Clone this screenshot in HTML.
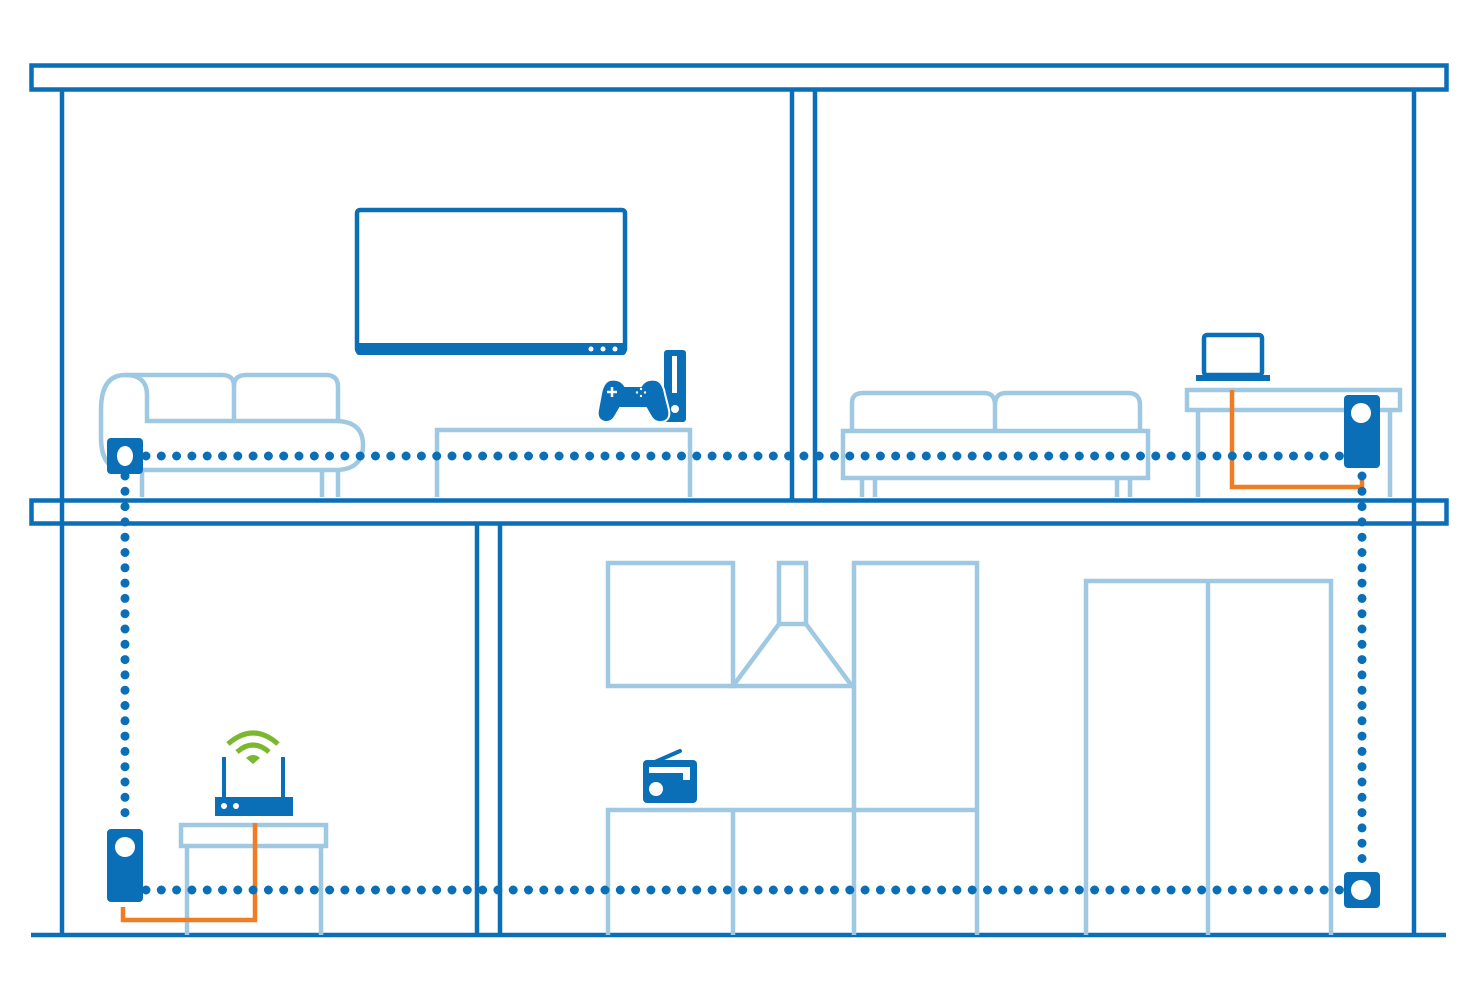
<!DOCTYPE html>
<html><head><meta charset="utf-8"><style>html,body{margin:0;padding:0;background:#fff}svg{display:block}</style></head>
<body>
<svg width="1478" height="1000" viewBox="0 0 1478 1000" xmlns="http://www.w3.org/2000/svg">
<g fill="none" stroke="#0a6fb7" stroke-width="4.5">
  <rect x="31.5" y="65.5" width="1415" height="24"/>
  <rect x="31.5" y="500.5" width="1415" height="23"/>
  <line x1="62" y1="90" x2="62" y2="935"/>
  <line x1="1414" y1="90" x2="1414" y2="935"/>
  <line x1="31" y1="935" x2="1446" y2="935"/>
  <line x1="792" y1="90" x2="792" y2="500"/>
  <line x1="815" y1="90" x2="815" y2="500"/>
  <line x1="477" y1="524" x2="477" y2="935"/>
  <line x1="500" y1="524" x2="500" y2="935"/>
  <rect x="357" y="210" width="268" height="142" rx="3"/>
</g>
<rect x="356" y="343" width="270" height="12" rx="3" fill="#0a6fb7"/>
<circle cx="591" cy="349" r="2.5" fill="#fff"/><circle cx="603" cy="349" r="2.5" fill="#fff"/><circle cx="615" cy="349" r="2.5" fill="#fff"/>

<g fill="none" stroke="#9fc8e3" stroke-width="4.5">
  <path d="M125 375 H222 Q234 375 234 386 Q234 375 246 375 H326 Q338 375 338 387 V421"/>
  <path d="M234 386 V421"/>
  <path d="M125 375 Q101 375 101 410 V437 Q101 470 125 470 H335 Q363 470 363 445 Q363 421 335 421 H147 V395 Q147 375 125 375"/>
  <path d="M142 470 V497 M322 470 V497 M338 470 V497"/>
  <path d="M437 497 V430 H690 V497"/>
  <path d="M852 430 V403 Q852 393 863 393 H984 Q995 393 995 405 Q995 393 1006 393 H1128 Q1140 393 1140 405 V430"/>
  <path d="M995 405 V430"/>
  <rect x="843" y="431" width="305" height="47"/>
  <path d="M862 478 V497 M875 478 V497 M1117 478 V497 M1130 478 V497"/>
  <rect x="1187" y="390" width="213" height="20"/>
  <path d="M1198 410 V497 M1390 410 V497"/>
  <rect x="608" y="563" width="125" height="123"/>
  <rect x="779" y="563" width="27" height="61"/>
  <path d="M779 624 L733 686 H852 L806 624"/>
  <path d="M854 935 V563 H977 V935 M854 810 H977"/>
  <path d="M608 935 V810 H854 M733 810 V935"/>
  <path d="M1086 935 V581 H1331 V935 M1208 581 V935"/>
  <rect x="181" y="825" width="145" height="21"/>
  <path d="M187 846 V935 M321 846 V935"/>
</g>

<g fill="none" stroke="#f07d23" stroke-width="4.5">
  <path d="M1232 390 V487 H1362 V476"/>
  <path d="M123 907 V920 H255 V823"/>
</g>

<g fill="none" stroke="#0a6fb7" stroke-width="9" stroke-linecap="round" stroke-dasharray="0 15.3">
  <line x1="146" y1="456" x2="1340" y2="456"/>
  <line x1="125" y1="476" x2="125" y2="815"/>
  <line x1="1362" y1="476" x2="1362" y2="872"/>
  <line x1="146" y1="890" x2="1344" y2="890"/>
</g>

<rect x="107" y="438" width="36" height="36" rx="4" fill="#0a6fb7"/>
<ellipse cx="125" cy="456" rx="8" ry="10" fill="#fff"/>
<rect x="1344" y="395" width="36" height="73" rx="4" fill="#0a6fb7"/>
<circle cx="1361" cy="413" r="10" fill="#fff"/>
<rect x="107" y="829" width="36" height="73" rx="4" fill="#0a6fb7"/>
<circle cx="125" cy="847" r="10" fill="#fff"/>
<rect x="1344" y="872" width="36" height="36" rx="4" fill="#0a6fb7"/>
<circle cx="1361" cy="890" r="10" fill="#fff"/>

<rect x="1204" y="335" width="58" height="40" rx="3" fill="none" stroke="#0a6fb7" stroke-width="4.5"/>
<rect x="1196" y="375" width="74" height="6" fill="#0a6fb7"/>

<!-- console -->
<rect x="664" y="350" width="22" height="72" rx="3" fill="#0a6fb7"/>
<rect x="672" y="356" width="5" height="37" fill="#fff"/>
<circle cx="675" cy="409" r="4" fill="#fff"/>
<!-- controller -->
<path d="M610 380 Q620 378 625 386 H641 Q646 378 656 380 Q663 382 665 394 L669 410 Q671 421 661 422 Q654 423 650 415 L646 408 H620 L616 415 Q612 423 605 422 Q596 420 598 410 L601 394 Q603 382 610 380 Z" fill="#0a6fb7" stroke="#fff" stroke-width="2"/>
<path d="M607 392 H617 M612 387 V397" stroke="#fff" stroke-width="2.5"/>
<circle cx="641" cy="389" r="1.2" fill="#fff"/><circle cx="641" cy="396" r="1.2" fill="#fff"/><circle cx="637" cy="392.5" r="1.2" fill="#fff"/><circle cx="645" cy="392.5" r="1.2" fill="#fff"/>

<path d="M648 765 L680 751" stroke="#0a6fb7" stroke-width="4" stroke-linecap="round"/>
<rect x="643" y="760" width="54" height="43" rx="4" fill="#0a6fb7"/>
<path d="M649 767 H690 V780 H683 V773 H649 Z" fill="#fff"/>
<circle cx="656" cy="789" r="7" fill="#fff"/>

<rect x="215" y="797" width="78" height="19" fill="#0a6fb7"/>
<circle cx="224" cy="806" r="3" fill="#fff"/><circle cx="236" cy="806" r="3" fill="#fff"/>
<path d="M224 757 V797 M283 757 V797" stroke="#0a6fb7" stroke-width="4"/>
<g fill="none" stroke="#7cb82f" stroke-width="5">
  <path d="M228 744 Q253 722 278 744"/>
  <path d="M237 752 Q253 738 269 752"/>
</g>
<path d="M246 758 L253 764 L260 758 Q253 752 246 758 Z" fill="#7cb82f"/>
</svg>
</body></html>
